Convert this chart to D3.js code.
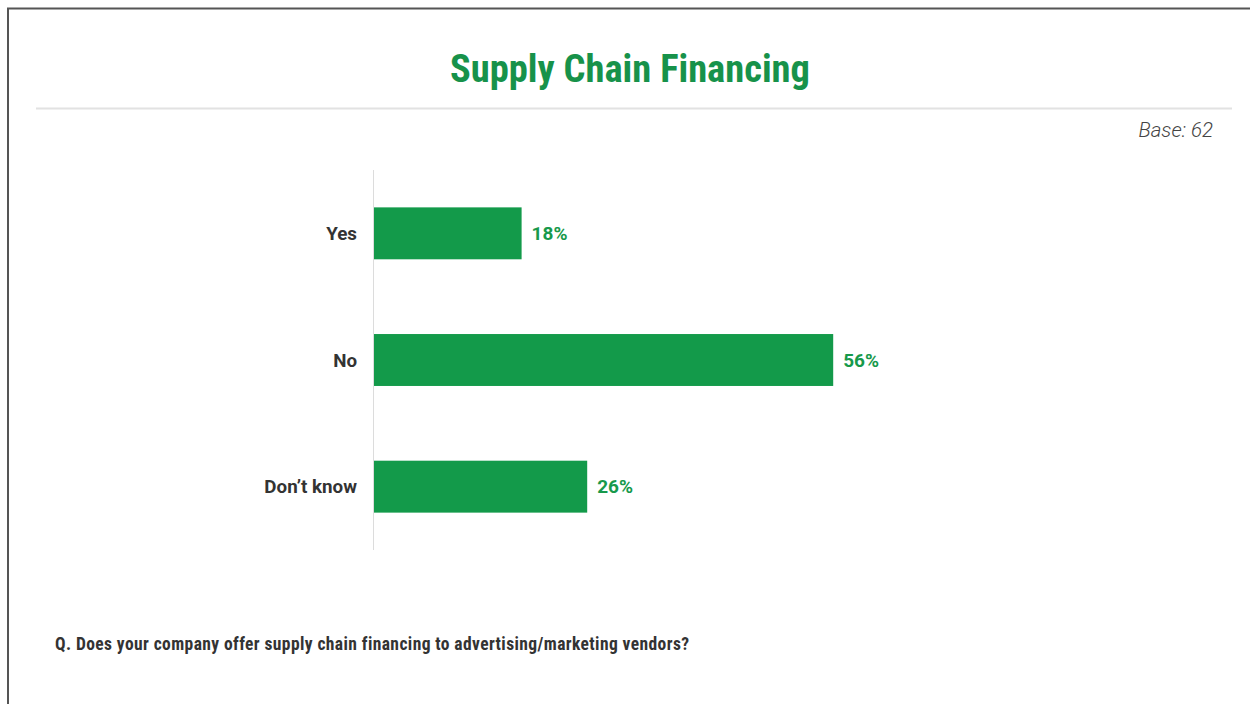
<!doctype html>
<html lang="en">
<head>
  <meta charset="utf-8">
  <title>Supply Chain Financing</title>
  <style>
    body { margin: 0; background: #fff; }
    svg { display: block; }
    .title { font-family: "Roboto Condensed", "Liberation Sans Narrow", sans-serif; font-weight: bold; fill: #17924a; }
    .cat { font-family: Roboto, "Liberation Sans", sans-serif; font-weight: bold; fill: #333; }
    .val { font-family: Roboto, "Liberation Sans", sans-serif; font-weight: bold; fill: #17994b; }
    .base { font-family: Roboto, "Liberation Sans", sans-serif; font-style: italic; font-weight: 300; fill: #444; }
    .note { font-family: "Roboto Condensed", "Liberation Sans Narrow", sans-serif; font-weight: bold; fill: #333; letter-spacing: 0.4px; }
  </style>
</head>
<body>
  <div id="chart"></div>
  <script src="https://cdn.jsdelivr.net/npm/d3@7"></script>
  <script>
var categories = ["Yes", "No", "Don\u2019t know"];
var values = [18, 56, 26];
var titleText = "Supply Chain Financing";
var baseText = "Base: 62";
var noteText = "Q. Does your company offer supply chain financing to advertising/marketing vendors?";

(function() {
  var width = 1250, height = 704;

  var svg = d3.select("#chart").append("svg")
      .attr("width", width)
      .attr("height", height);

  // page frame (top and left edges only)
  svg.append("path")
      .attr("d", "M8,704V8.5H1250")
      .attr("fill", "none")
      .attr("stroke", "#555")
      .attr("stroke-width", 2);

  svg.append("text")
      .attr("class", "title")
      .attr("x", 630)
      .attr("y", 82)
      .attr("text-anchor", "middle")
      .attr("font-size", 38.5)
      .text(titleText);

  svg.append("line")
      .attr("x1", 36).attr("x2", 1232)
      .attr("y1", 108.5).attr("y2", 108.5)
      .attr("stroke", "#e2e2e2")
      .attr("stroke-width", 2);

  svg.append("text")
      .attr("class", "base")
      .attr("x", 1213)
      .attr("y", 137)
      .attr("text-anchor", "end")
      .attr("font-size", 20.5)
      .text(baseText);

  var x = d3.scaleLinear().domain([0, 100]).range([374, 1194]);
  var y = d3.scaleBand().domain(categories).range([170, 550])
      .paddingInner(0.59).paddingOuter(0.295);

  svg.append("line")
      .attr("x1", 373.5).attr("x2", 373.5)
      .attr("y1", 170).attr("y2", 550)
      .attr("stroke", "#dcdcdc")
      .attr("stroke-width", 1);

  var rows = svg.selectAll("g.row")
      .data(categories.map(function(c, i) { return { cat: c, v: values[i] }; }))
      .enter().append("g")
      .attr("class", "row");

  rows.append("rect")
      .attr("x", x(0))
      .attr("y", function(d) { return y(d.cat); })
      .attr("width", function(d) { return x(d.v) - x(0); })
      .attr("height", y.bandwidth())
      .attr("fill", "#139a4a");

  rows.append("text")
      .attr("class", "cat")
      .attr("x", 357)
      .attr("y", function(d) { return y(d.cat) + y.bandwidth() / 2; })
      .attr("dy", "0.35em")
      .attr("text-anchor", "end")
      .attr("font-size", 18.8)
      .text(function(d) { return d.cat; });

  rows.append("text")
      .attr("class", "val")
      .attr("x", function(d) { return x(d.v) + 10; })
      .attr("y", function(d) { return y(d.cat) + y.bandwidth() / 2; })
      .attr("dy", "0.35em")
      .attr("font-size", 19)
      .text(function(d) { return d.v + "%"; });

  svg.append("text")
      .attr("class", "note")
      .attr("x", 55)
      .attr("y", 650)
      .attr("font-size", 17.5)
      .text(noteText);
})();
  </script>
</body>
</html>
